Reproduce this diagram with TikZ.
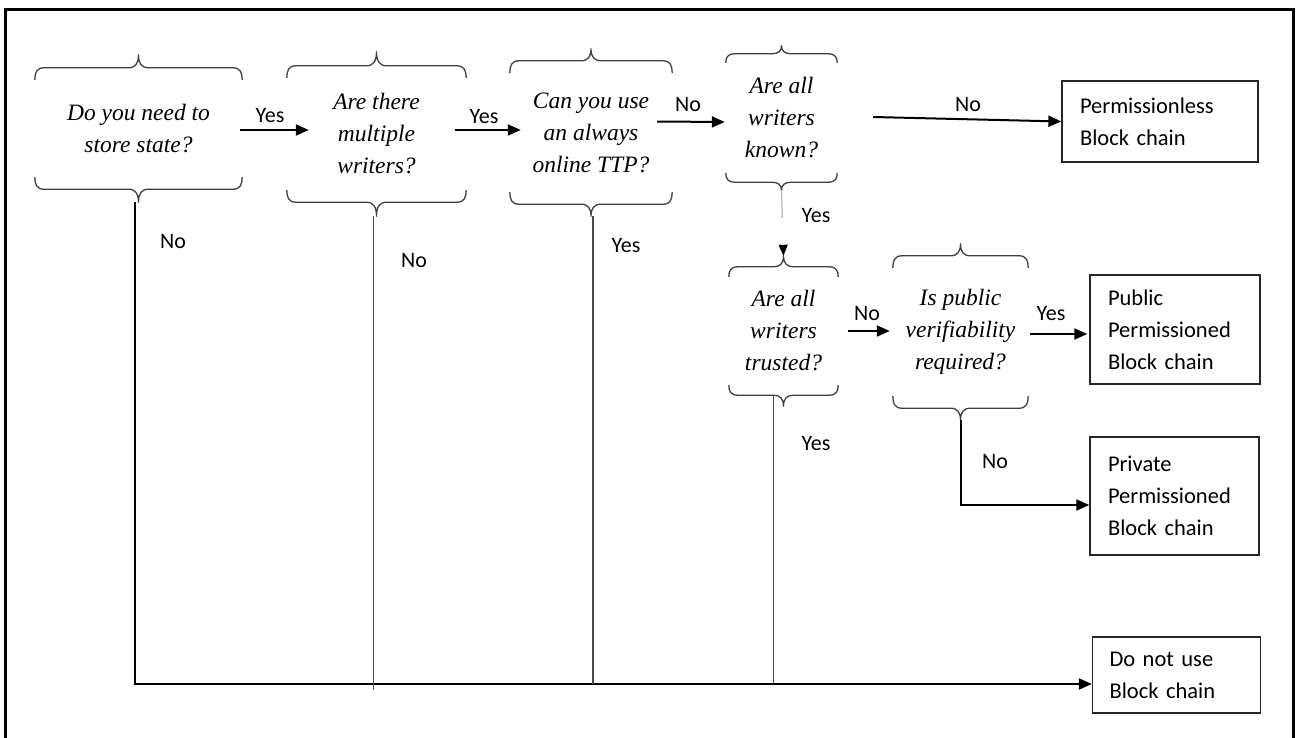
\documentclass[tikz,border=0pt]{standalone}
\usepackage{fontspec}
\setmainfont{Liberation Serif}
\newfontfamily\labelsans{Carlito}
\usetikzlibrary{calc,arrows.meta}

\tikzset{
  question/.style={inner sep=0pt, align=center, font=\fontsize{23.5}{32}\selectfont\itshape},
  result/.style={draw=black!85, line width=1.3pt, inner xsep=18pt, inner ysep=0pt,
    align=left, font=\labelsans\fontsize{22.5}{32}\selectfont},
  tag/.style={inner sep=0pt, font=\labelsans\fontsize{22}{24}\selectfont},
  bracket/.style={draw=black!75, line width=1.3pt, line join=round},
  flow/.style={line width=2pt, -{Triangle[length=13pt,width=11pt]}},
  drop/.style={draw=black!70, line width=1.2pt},
}

% Curly brace above and below a question node; #2 = curl height, #3 = tip height.
% Defines the tip coordinates <node>-top and <node>-bot.
\newcommand\bracepair[3]{%
  \draw[bracket]
    (#1.north west) .. controls ($(#1.north west)+(0,0.6*#2)$) and ($(#1.north west)+(2,#2)$) .. ($(#1.north west)+(9,#2)$)
    -- ($(#1.north)+(-10,#2)$)
    .. controls ($(#1.north)+(-3,#2)$) and ($(#1.north)+(0,#2+0.35*#3)$) .. ($(#1.north)+(0,#2+#3)$) coordinate (#1-top)
    .. controls ($(#1.north)+(0,#2+0.35*#3)$) and ($(#1.north)+(3,#2)$) .. ($(#1.north)+(10,#2)$)
    -- ($(#1.north east)+(-9,#2)$)
    .. controls ($(#1.north east)+(-2,#2)$) and ($(#1.north east)+(0,0.6*#2)$) .. (#1.north east);
  \draw[bracket]
    (#1.south west) .. controls ($(#1.south west)+(0,-0.6*#2)$) and ($(#1.south west)+(2,-#2)$) .. ($(#1.south west)+(9,-#2)$)
    -- ($(#1.south)+(-10,-#2)$)
    .. controls ($(#1.south)+(-3,-#2)$) and ($(#1.south)+(0,-#2-0.35*#3)$) .. ($(#1.south)+(0,-#2-#3)$) coordinate (#1-bot)
    .. controls ($(#1.south)+(0,-#2-0.35*#3)$) and ($(#1.south)+(3,-#2)$) .. ($(#1.south)+(10,-#2)$)
    -- ($(#1.south east)+(-9,-#2)$)
    .. controls ($(#1.south east)+(-2,-#2)$) and ($(#1.south east)+(0,-0.6*#2)$) .. (#1.south east);
}

\begin{document}
\begin{tikzpicture}[x=1pt, y=1pt]
\useasboundingbox (0,0) rectangle (1296,-737);
\fill[white] (0,0) rectangle (1296,-737);

% outer frame
\draw[line width=3pt] (5,-750) -- (5,-9) -- (1293,-9) -- (1293,-750);

% questions
\node[question, minimum width=207pt, minimum height=97pt]  (q1) at (138.5,-128.5) {Do you need to\\store state?};
\node[question, minimum width=179pt, minimum height=112pt] (q2) at (376.5,-134) {Are there\\multiple\\writers?};
\node[question, minimum width=162pt, minimum height=119pt] (q3) at (591,-132.5) {Can you use\\an always\\online TTP?};
\node[question, minimum width=111pt, minimum height=110pt] (q4) at (781.5,-118) {Are all\\writers\\known?};
\node[question, minimum width=109pt, minimum height=108pt] (q5) at (783.5,-331) {Are all\\writers\\trusted?};
\node[question, minimum width=135pt, minimum height=128pt] (q6) at (960.5,-332) {Is public\\verifiability\\required?};

\bracepair{q1}{12}{13}
\bracepair{q2}{12}{14}
\bracepair{q3}{12}{12}
\bracepair{q4}{9}{8}
\bracepair{q5}{10}{11}
\bracepair{q6}{12}{12}

% outcomes
\node[result, text width=160pt, minimum height=81pt]  (a1) at (1160,-121.5) {Permissionless\\Block chain};
\node[result, text width=134pt, minimum height=109pt] (a2) at (1175,-329.5) {Public\\Permissioned\\Block chain};
\node[result, text width=133pt, minimum height=118pt] (a3) at (1174.5,-496) {Private\\Permissioned\\Block chain};
\node[result, text width=134pt, minimum height=76pt, inner xsep=17pt] (a4) at (1176.5,-675) {Do not use\\Block chain};

% decision arrows along the top row
\draw[flow] ($(q1.east)+(-2,-1.5)$) -- ($(q2.west |- q1.east)+(22,-1.5)$);
\draw[flow] ($(q2.east)+(-11,4)$) -- ($(q3.west |- q2.east)+(11,4)$);
\draw[flow] ($(q3.east)+(-15,11)$) -- ($(q4.west |- q3.east)+(-1,10.5)$);
\draw[flow] ($(q4.east)+(36,1)$) -- (a1.west);
\draw[flow] ($(q5.east)+(10,0)$) -- ($(q6.west |- q5.east)+(-3,0)$);
\draw[flow] ($(q6.east)+(2,-2)$) -- ($(a2.west |- q6.east)+(-2,-2)$);
\draw[flow] (q6-bot) |- ($(a3.west)+(0,-9)$);

% known -> trusted
\draw[draw=black!30, line width=1.2pt, dash pattern=on 28pt off 27pt,
      -{Triangle[length=11pt,width=9pt,color=black]}] (q4-bot) -- (q5-top);

% "No" paths into the bottom line
\draw[flow] ($(q1-bot)+(-4,0)$) |- ($(a4.west)+(0,-9)$);
\draw[drop] ($(q2-bot)+(-3,0)$) -- ($(q2-bot |- a4.west)+(-3,-15)$);
\draw[drop] ($(q3-bot)+(2,0)$) -- ($(q3-bot |- a4.west)+(2,-9)$);
\draw[drop] ($(q5.south)+(-10,-10)$) -- ($(q5.south |- a4.west)+(-10,-9)$);

% labels
\node[tag] (t1)  at (270,-116) {Yes};
\node[tag] (t2)  at (484,-117) {Yes};
\node[tag] (t3)  at (688,-105) {No};
\node[tag] (t4)  at (968,-105) {No};
\node[tag] (t5)  at (173,-242) {No};
\node[tag] (t6)  at (414,-261) {No};
\node[tag] (t7)  at (626,-246) {Yes};
\node[tag] (t8)  at (816,-216) {Yes};
\node[tag] (t9)  at (816,-444) {Yes};
\node[tag] (t10) at (867,-314) {No};
\node[tag] (t11) at (1051,-314) {Yes};
\node[tag] (t12) at (995,-462) {No};
\end{tikzpicture}
\end{document}
